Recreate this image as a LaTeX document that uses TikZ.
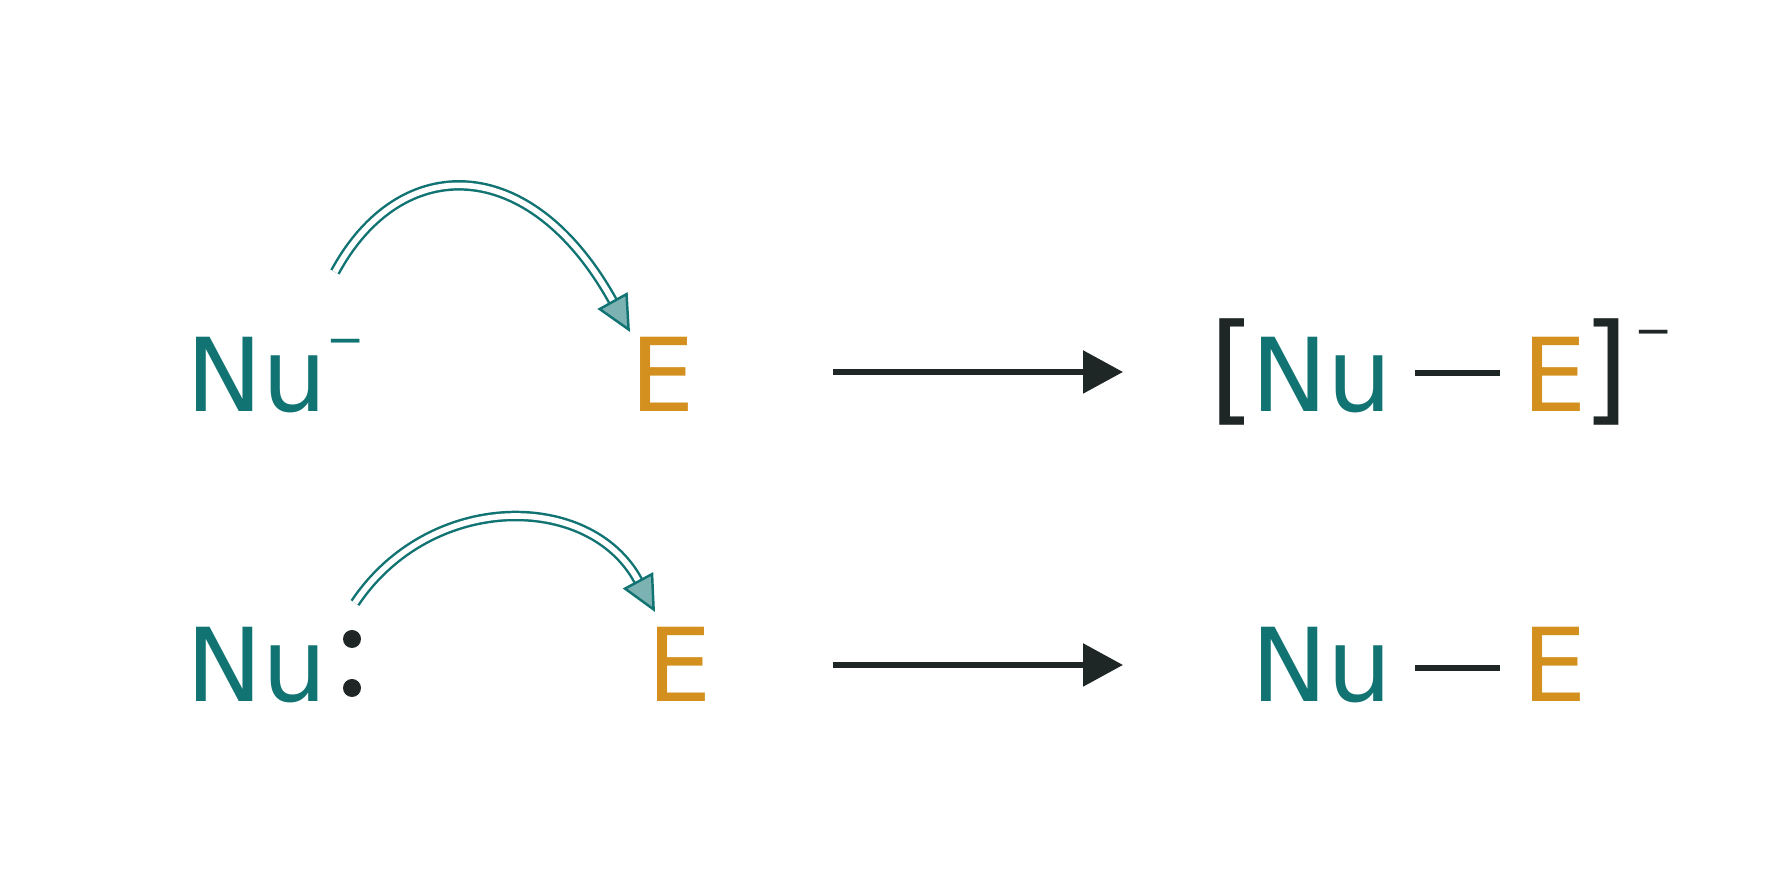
\documentclass[tikz,border=0pt]{standalone}
\usepackage{fontspec}
\setmainfont{DejaVu Sans}
\usetikzlibrary{arrows.meta, positioning}
\definecolor{nuteal}{HTML}{127373}
\definecolor{eorange}{HTML}{D4901E}
\definecolor{inkdark}{HTML}{1F2626}

\begin{document}
\begin{tikzpicture}
		\tikzstyle{Atom} = [inner sep=0pt, anchor=base west, font=\fontsize{29}{30}\selectfont]
		\tikzstyle{NuAtom} = [Atom, text=nuteal]
		\tikzstyle{EAtom} = [Atom, text=eorange]
		\tikzstyle{Charge} = [inner sep=0pt, font=\fontsize{13}{14}\selectfont, text=inkdark]
		\tikzstyle{Bracket} = [inner sep=0pt, text=inkdark, font=\fontsize{34}{34}\selectfont]
		\tikzstyle{bond} = [inkdark, line width=1.6pt]
		\tikzstyle{reaction} = [inkdark, line width=1.6pt, -{Triangle[length=4mm, width=4.2mm]}]
		\tikzstyle{curly} = [nuteal, line width=0.7pt, double=white, double distance=1.6pt, -{Triangle[length=3.6mm, width=3.4mm, fill=nuteal!55]}]
		\useasboundingbox (0,0) rectangle (17.74,8.87);
		
		% first row
		\node (nuA) [NuAtom] at (1.86,4.75) {Nu};
		\node (chA) [Charge, text=nuteal] at (3.46,5.40) {−};
		\node (eA) [EAtom] at (6.30,4.75) {E};
		\node (nuAP) [NuAtom] at (12.51,4.75) {Nu};
		\node (eAP) [EAtom] at (15.22,4.75) {E};
		\node (brL) [Bracket] at (12.33,5.15) {[};
		\node (brR) [Bracket] at (16.06,5.15) {]};
		\node (chAP) [Charge] at (16.54,5.49) {−};
		\coordinate (rxA1) at (8.33,5.15);
		\coordinate (rxA2) at (11.23,5.15);
		\coordinate (curlA1) at (3.35,6.15);
		\coordinate (curlA2) at (6.30,5.55);
		\draw[reaction] (rxA1) -- (rxA2);
		\draw[bond, shorten <=2.2mm, shorten >=2.2mm] (nuAP.east |- 0,5.14) -- (eAP.west |- 0,5.14);
		\draw[curly] (curlA1) .. controls (4.0,7.35) and (5.3,7.35) .. (curlA2);
		
		% second row
		\node (nuB) [NuAtom] at (1.86,1.85) {Nu};
		\node (eB) [EAtom] at (6.47,1.85) {E};
		\node (nuBP) [NuAtom] at (12.51,1.85) {Nu};
		\node (eBP) [EAtom] at (15.22,1.85) {E};
		\fill[inkdark] (3.52,2.48) circle (0.09) (3.52,1.99) circle (0.09);
		\coordinate (rxB1) at (8.33,2.22);
		\coordinate (rxB2) at (11.23,2.22);
		\coordinate (curlB1) at (3.55,2.84);
		\coordinate (curlB2) at (6.55,2.75);
		\draw[reaction] (rxB1) -- (rxB2);
		\draw[bond, shorten <=2.2mm, shorten >=2.2mm] (nuBP.east |- 0,2.19) -- (eBP.west |- 0,2.19);
		\draw[curly] (curlB1) .. controls (4.3,3.96) and (5.9,3.96) .. (curlB2);
\end{tikzpicture}
\end{document}
